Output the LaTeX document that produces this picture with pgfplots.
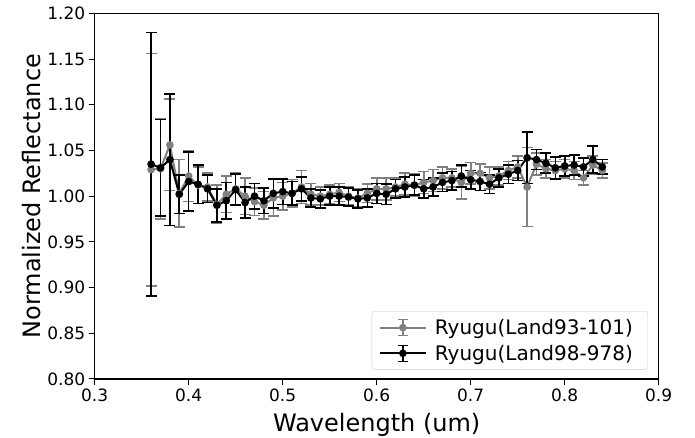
\documentclass[border=0pt]{standalone}
\usepackage{fontspec}
\setmainfont{DejaVu Sans}
\usepackage{pgfplots}
\pgfplotsset{compat=1.18}
\definecolor{mgray}{RGB}{128,128,128}
\definecolor{legframe}{RGB}{204,204,204}
\begin{document}
\begin{tikzpicture}
\useasboundingbox (-94.7pt,-59pt) rectangle (600.3pt,379pt);
\begin{axis}[
  at={(0,0)}, anchor=south west, scale only axis,
  width=564pt, height=365.7pt,
  xmin=0.3, xmax=0.9, ymin=0.8, ymax=1.2,
  xtick={0.3,0.4,0.5,0.6,0.7,0.8,0.9},
  ytick={0.8,0.85,0.9,0.95,1,1.05,1.1,1.15,1.2},
  x tick label style={/pgf/number format/.cd, fixed, precision=1, fixed zerofill},
  y tick label style={/pgf/number format/.cd, fixed, precision=2, fixed zerofill},
  /pgf/number format/assume math mode=true,
  tick label style={font=\fontsize{17}{20}\selectfont},
  tick align=outside, major tick length=6pt,
  tick style={black, line width=1pt},
  xtick pos=bottom, ytick pos=left,
  axis line style={line width=1.1pt},
  xlabel={Wavelength (um)}, ylabel={Normalized Reflectance},
  label style={font=\fontsize{24}{28}\selectfont},
  xlabel style={yshift=-5pt},
  legend cell align=left,
  legend style={at={(0.981,0.025)}, anchor=south east, draw=legframe, rounded corners=3pt,
    font=\fontsize{20}{24}\selectfont, inner xsep=7pt, inner ysep=6pt, row sep=5pt,
    nodes={inner xsep=8pt}},
  legend image code/.code={
    \draw[#1, mark=none] (0pt,0pt) -- (46pt,0pt);
    \draw[#1, mark=none, line width=1.6pt] (23pt,-8pt) -- (23pt,8pt);
    \draw[#1, mark=none, line width=1.6pt] (18pt,-8pt) -- (28pt,-8pt);
    \draw[#1, mark=none, line width=1.6pt] (18pt,8pt) -- (28pt,8pt);
    \fill[#1] (23pt,0pt) circle (2.8pt);
  },
]
\addplot[mgray, line width=2pt, mark=*, mark size=2.8pt, mark options={solid, fill=mgray},
  error bars/.cd, y dir=both, y explicit,
  error bar style={line width=1.6pt, mgray},
  error mark options={rotate=90, mgray, mark size=5.5pt, line width=1.6pt}]
coordinates {
(0.36,1.029) +- (0,0.127)
(0.37,1.030) +- (0,0.055)
(0.38,1.056) +- (0,0.050)
(0.39,1.003) +- (0,0.037)
(0.40,1.022) +- (0,0.028)
(0.41,1.012) +- (0,0.020)
(0.42,1.010) +- (0,0.015)
(0.43,0.991) +- (0,0.021)
(0.44,1.002) +- (0,0.020)
(0.45,1.008) +- (0,0.017)
(0.46,1.000) +- (0,0.020)
(0.47,0.994) +- (0,0.015)
(0.48,0.990) +- (0,0.015)
(0.49,0.998) +- (0,0.020)
(0.50,1.000) +- (0,0.015)
(0.51,1.003) +- (0,0.015)
(0.52,1.010) +- (0,0.018)
(0.53,1.002) +- (0,0.012)
(0.54,1.000) +- (0,0.010)
(0.55,1.002) +- (0,0.010)
(0.56,1.004) +- (0,0.010)
(0.57,1.000) +- (0,0.010)
(0.58,0.998) +- (0,0.010)
(0.59,1.003) +- (0,0.010)
(0.60,1.008) +- (0,0.012)
(0.61,1.008) +- (0,0.012)
(0.62,1.010) +- (0,0.010)
(0.63,1.013) +- (0,0.012)
(0.64,1.012) +- (0,0.012)
(0.65,1.015) +- (0,0.012)
(0.66,1.017) +- (0,0.012)
(0.67,1.020) +- (0,0.012)
(0.68,1.020) +- (0,0.010)
(0.69,1.015) +- (0,0.018)
(0.70,1.025) +- (0,0.012)
(0.71,1.025) +- (0,0.010)
(0.72,1.020) +- (0,0.012)
(0.73,1.022) +- (0,0.010)
(0.74,1.028) +- (0,0.010)
(0.75,1.032) +- (0,0.012)
(0.76,1.010) +- (0,0.043)
(0.77,1.035) +- (0,0.012)
(0.78,1.030) +- (0,0.010)
(0.79,1.028) +- (0,0.010)
(0.80,1.030) +- (0,0.010)
(0.81,1.028) +- (0,0.010)
(0.82,1.020) +- (0,0.008)
(0.83,1.034) +- (0,0.010)
(0.84,1.028) +- (0,0.008)
};
\addlegendentry{Ryugu(Land93-101)}
\addplot[black, line width=2pt, mark=*, mark size=2.8pt, mark options={solid, fill=black},
  error bars/.cd, y dir=both, y explicit,
  error bar style={line width=1.6pt, black},
  error mark options={rotate=90, black, mark size=5.5pt, line width=1.6pt}]
coordinates {
(0.36,1.035) +- (0,0.144)
(0.37,1.031) +- (0,0.053)
(0.38,1.040) +- (0,0.072)
(0.39,1.002) +- (0,0.021)
(0.40,1.016) +- (0,0.032)
(0.41,1.013) +- (0,0.021)
(0.42,1.008) +- (0,0.015)
(0.43,0.990) +- (0,0.018)
(0.44,0.995) +- (0,0.020)
(0.45,1.007) +- (0,0.017)
(0.46,0.993) +- (0,0.017)
(0.47,1.000) +- (0,0.014)
(0.48,0.995) +- (0,0.014)
(0.49,1.003) +- (0,0.016)
(0.50,1.005) +- (0,0.014)
(0.51,1.003) +- (0,0.013)
(0.52,1.008) +- (0,0.013)
(0.53,0.998) +- (0,0.010)
(0.54,0.997) +- (0,0.010)
(0.55,1.000) +- (0,0.010)
(0.56,1.000) +- (0,0.010)
(0.57,0.999) +- (0,0.010)
(0.58,0.997) +- (0,0.010)
(0.59,0.998) +- (0,0.010)
(0.60,1.003) +- (0,0.011)
(0.61,1.002) +- (0,0.011)
(0.62,1.008) +- (0,0.010)
(0.63,1.010) +- (0,0.011)
(0.64,1.012) +- (0,0.011)
(0.65,1.008) +- (0,0.010)
(0.66,1.010) +- (0,0.010)
(0.67,1.015) +- (0,0.010)
(0.68,1.017) +- (0,0.010)
(0.69,1.022) +- (0,0.012)
(0.70,1.018) +- (0,0.010)
(0.71,1.016) +- (0,0.010)
(0.72,1.013) +- (0,0.010)
(0.73,1.020) +- (0,0.010)
(0.74,1.024) +- (0,0.010)
(0.75,1.028) +- (0,0.011)
(0.76,1.042) +- (0,0.028)
(0.77,1.040) +- (0,0.011)
(0.78,1.036) +- (0,0.011)
(0.79,1.031) +- (0,0.012)
(0.80,1.033) +- (0,0.011)
(0.81,1.034) +- (0,0.011)
(0.82,1.032) +- (0,0.010)
(0.83,1.040) +- (0,0.015)
(0.84,1.032) +- (0,0.008)
};
\addlegendentry{Ryugu(Land98-978)}
\end{axis}
\end{tikzpicture}
\end{document}
